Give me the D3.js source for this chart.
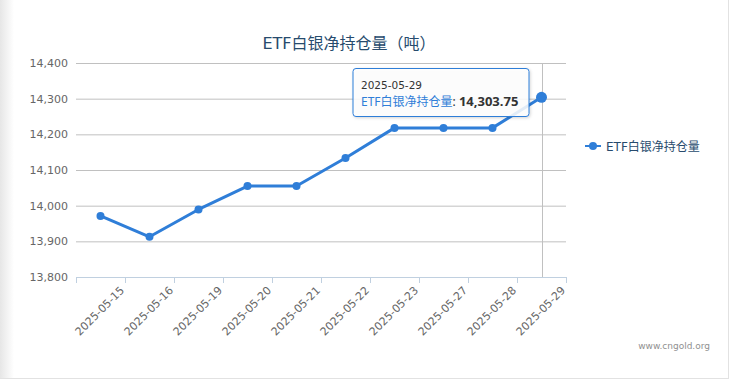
<!DOCTYPE html>
<html>
<head>
<meta charset="utf-8">
<script src="https://cdn.jsdelivr.net/npm/d3@7"></script>
<style>
  html, body { margin: 0; padding: 0; background: #fff; }
  svg { display: block; font-family: "DejaVu Sans", "Noto Sans CJK SC", sans-serif; }
</style>
</head>
<body>
<svg id="chart" width="748" height="385"></svg>
<script>
// chart data
const dates = ["2025-05-15", "2025-05-16", "2025-05-19", "2025-05-20", "2025-05-21",
               "2025-05-22", "2025-05-23", "2025-05-27", "2025-05-28", "2025-05-29"];
const holdings = [13971.2, 13912.8, 13989.4, 14055.0, 14055.0,
                  14133.6, 14218.1, 14218.1, 14218.1, 14303.75];
const yTicks = [13800, 13900, 14000, 14100, 14200, 14300, 14400];
const seriesName = "ETF白银净持仓量";
const title = "ETF白银净持仓量（吨）";

const blue = "#2f7ed8";
const svg = d3.select("#chart");

// page frame: soft left shadow + right/bottom borders
const defs = svg.append("defs");
const grad = defs.append("linearGradient").attr("id", "leftShade");
grad.append("stop").attr("offset", "0%").attr("stop-color", "#e6e6e6");
grad.append("stop").attr("offset", "100%").attr("stop-color", "#ffffff");
svg.append("rect").attr("x", 0).attr("y", 0).attr("width", 14).attr("height", 378)
    .attr("fill", "url(#leftShade)");
svg.append("line").attr("x1", 728.5).attr("x2", 728.5).attr("y1", 0).attr("y2", 378.5)
    .attr("stroke", "#e2e2e2");
svg.append("line").attr("x1", 0).attr("x2", 729).attr("y1", 378.5).attr("y2", 378.5)
    .attr("stroke", "#e2e2e2");

const filter = defs.append("filter").attr("id", "tipShadow")
    .attr("x", "-10%").attr("y", "-10%").attr("width", "130%").attr("height", "140%");
filter.append("feDropShadow").attr("dx", 1).attr("dy", 1).attr("stdDeviation", 1.5)
    .attr("flood-color", "#000").attr("flood-opacity", 0.18);

const x = d3.scaleBand().domain(dates).range([76, 566]);
const y = d3.scaleLinear().domain([13800, 14400]).range([277, 63]);
const cx = d => x(d) + x.bandwidth() / 2;

// title
svg.append("text")
    .attr("x", 349).attr("y", 49)
    .attr("text-anchor", "middle")
    .attr("font-size", 16)
    .attr("fill", "#274b6d")
    .text(title);

// y grid + labels
const yAxis = svg.append("g").attr("transform", "translate(76,0)")
    .call(d3.axisLeft(y).tickValues(yTicks).tickFormat(d3.format(",")).tickSize(-490).tickPadding(8));
yAxis.select(".domain").remove();
yAxis.selectAll(".tick line").attr("stroke", "#c0c0c0");
yAxis.selectAll(".tick text").attr("fill", "#666").attr("font-size", 11)
    .attr("font-family", "DejaVu Sans, sans-serif");

// x axis
const xAxis = svg.append("g").attr("transform", "translate(0,277)");
xAxis.append("line").attr("x1", 76).attr("x2", 566.5).attr("y1", 0.5).attr("y2", 0.5)
    .attr("stroke", "#c0d0e0");
const edges = [x.range()[0]].concat(dates.map(d => x(d) + x.bandwidth()));
xAxis.selectAll(".xtick").data(edges).enter().append("line")
    .attr("x1", d => Math.round(d) + 0.5).attr("x2", d => Math.round(d) + 0.5)
    .attr("y1", 0).attr("y2", 6)
    .attr("stroke", "#c0d0e0");
xAxis.selectAll(".xlabel").data(dates).enter().append("text")
    .attr("transform", d => `translate(${x(d) + x.bandwidth()},14) rotate(-45)`)
    .attr("text-anchor", "end")
    .attr("font-size", 11)
    .attr("fill", "#666")
    .text(d => d);

// crosshair on hovered point
const last = dates.length - 1;
svg.append("line")
    .attr("x1", Math.round(cx(dates[last])) + 0.5).attr("x2", Math.round(cx(dates[last])) + 0.5)
    .attr("y1", 63).attr("y2", 277)
    .attr("stroke", "#c0c0c0");

// series line
const line = d3.line().x((d, i) => cx(dates[i])).y(d => y(d));
svg.append("path").datum(holdings)
    .attr("d", line)
    .attr("fill", "none")
    .attr("stroke", blue)
    .attr("stroke-width", 3)
    .attr("stroke-linejoin", "round");

svg.selectAll(".dot").data(holdings).enter().append("circle")
    .attr("cx", (d, i) => cx(dates[i]))
    .attr("cy", d => y(d))
    .attr("r", (d, i) => i === last ? 5.5 : 4)
    .attr("fill", blue);

// legend
const legend = svg.append("g").attr("transform", "translate(585,146)");
legend.append("line").attr("x1", 0).attr("x2", 16).attr("y1", 0).attr("y2", 0)
    .attr("stroke", blue).attr("stroke-width", 2);
legend.append("circle").attr("cx", 8).attr("cy", 0).attr("r", 4).attr("fill", blue);
legend.append("text").attr("x", 21).attr("y", 4.5)
    .attr("font-size", 12).attr("fill", "#274b6d")
    .text(seriesName);

// tooltip
const tipX = 353, tipY = 68.5;
const tip = svg.append("g").attr("transform", `translate(${tipX},${tipY})`);
tip.append("rect").attr("width", 176).attr("height", 48).attr("rx", 3)
    .attr("fill", "rgba(255,255,255,0.85)")
    .attr("stroke", blue).attr("stroke-width", 1)
    .attr("filter", "url(#tipShadow)");
tip.append("text").attr("x", 8).attr("y", 20)
    .attr("font-size", 10.5).attr("fill", "#333")
    .text(dates[last]);
const t2 = tip.append("text").attr("x", 8).attr("y", 37).attr("font-size", 12)
    .attr("font-family", "'Noto Sans', 'Noto Sans CJK SC', sans-serif");
t2.append("tspan").attr("fill", blue).text(seriesName);
t2.append("tspan").attr("fill", "#333").text(": ");
t2.append("tspan").attr("fill", "#333").attr("font-weight", "bold").attr("font-size", 13)
    .text(d3.format(",.2f")(holdings[last]));

// credits
svg.append("text")
    .attr("x", 710).attr("y", 349)
    .attr("text-anchor", "end")
    .attr("font-size", 9)
    .attr("fill", "#909090")
    .text("www.cngold.org");
</script>
</body>
</html>
